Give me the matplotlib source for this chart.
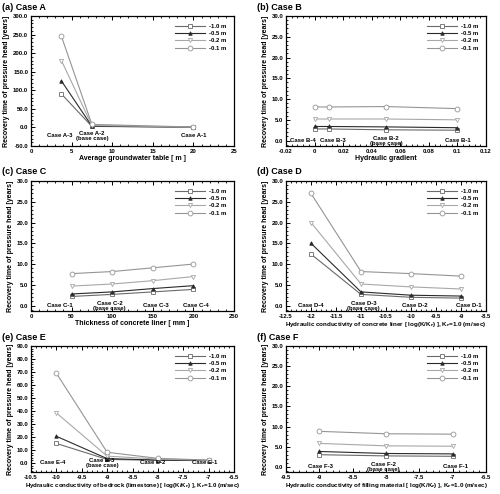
import matplotlib
matplotlib.use("Agg")
import matplotlib.pyplot as plt
from matplotlib.ticker import AutoMinorLocator

plt.rcParams['font.family'] = ['Liberation Sans', 'DejaVu Sans']
plt.rcParams['font.weight'] = 'bold'
plt.rcParams['mathtext.default'] = 'bf'

series_names = ["-1.0 m", "-0.5 m", "-0.2 m", "-0.1 m"]
ylabel = "Recovery time of pressure head [years]"

# Case A
a_x = [3.75, 7.5, 20]
a_vals = [[90, 2.7, 0.8], [125, 3.3, 0.9], [180, 5.2, 1.0], [245, 8.2, 1.1]]
a_cases = ["Case A-3", "Case A-2\n(base case)", "Case A-1"]
a_case_x = [3.5, 7.5, 20]
a_xticks = [0, 5, 10, 15, 20, 25]
a_xticklabels = ["0", "5", "10", "15", "20", "25"]
a_yticks = [-50, 0, 50, 100, 150, 200, 250, 300]
a_yticklabels = ["-50.0", "0.0", "50.0", "100.0", "150.0", "200.0", "250.0", "300.0"]

# Case B
b_x = [0, 0.01, 0.05, 0.1]
b_vals = [[2.8, 2.8, 2.6, 2.5], [3.4, 3.4, 3.3, 3.1], [5.2, 5.2, 5.2, 5.0], [8.1, 8.1, 8.2, 7.7]]
b_cases = ["Case B-4", "Case B-3", "Case B-2\n(base case)", "Case B-1"]
b_case_x = [-0.008, 0.013, 0.05, 0.1]
b_xticks = [-0.02, 0, 0.02, 0.04, 0.06, 0.08, 0.1, 0.12]
b_xticklabels = ["-0.02", "0", "0.02", "0.04", "0.06", "0.08", "0.1", "0.12"]

# Case C
c_x = [50, 100, 150, 200]
c_vals = [[2.2, 2.7, 3.3, 3.9], [2.8, 3.3, 4.1, 4.8], [4.7, 5.2, 6.0, 7.0], [7.7, 8.2, 9.1, 10.0]]
c_cases = ["Case C-1", "Case C-2\n(base case)", "Case C-3", "Case C-4"]
c_case_x = [35, 97, 154, 203]
c_xticks = [0, 50, 100, 150, 200, 250]
c_xticklabels = ["0", "50", "100", "150", "200", "250"]

# Case D
d_x = [-12, -11, -10, -9]
d_vals = [[12.4, 2.7, 2.0, 1.8], [15.0, 3.3, 2.5, 2.3], [20.0, 5.2, 4.5, 4.0], [27.0, 8.2, 7.7, 7.1]]
d_cases = ["Case D-4", "Case D-3\n(base case)", "Case D-2", "Case D-1"]
d_case_x = [-12, -10.95, -9.92, -8.85]
d_xticks = [-12.5, -12, -11.5, -11, -10.5, -10, -9.5, -9, -8.5]
d_xticklabels = ["-12.5", "-12", "-11.5", "-11", "-10.5", "-10", "-9.5", "-9", "-8.5"]

# Case E
e_x = [-10, -9, -8, -7]
e_vals = [[15.0, 2.7, 2.0, 1.8], [20.5, 3.3, 2.2, 1.9], [38.5, 5.2, 3.0, 2.0], [69.0, 8.2, 3.5, 2.2]]
e_cases = ["Case E-4", "Case E-3\n(base case)", "Case E-2", "Case E-1"]
e_case_x = [-10.07, -9.1, -8.1, -7.07]
e_xticks = [-10.5, -10, -9.5, -9, -8.5, -8, -7.5, -7, -6.5]
e_xticklabels = ["-10.5", "-10", "-9.5", "-9", "-8.5", "-8", "-7.5", "-7", "-6.5"]
e_yticks = [0, 10, 20, 30, 40, 50, 60, 70, 80, 90]
e_yticklabels = ["0.0", "10.0", "20.0", "30.0", "40.0", "50.0", "60.0", "70.0", "80.0", "90.0"]

# Case F
f_x = [-9, -8, -7]
f_vals = [[3.0, 2.7, 2.6], [3.8, 3.3, 3.2], [5.8, 5.2, 5.1], [8.8, 8.2, 8.1]]
f_cases = ["Case F-3", "Case F-2\n(base case)", "Case F-1"]
f_case_x = [-8.975, -8.04, -6.96]
f_xticks = [-9.5, -9, -8.5, -8, -7.5, -7, -6.5]
f_xticklabels = ["-9.5", "-9", "-8.5", "-8", "-7.5", "-7", "-6.5"]

small_yticks = [0, 5, 10, 15, 20, 25, 30]
small_yticklabels = ["0.0", "5.0", "10.0", "15.0", "20.0", "25.0", "30.0"]

colors = ["#6a6a6a", "#2a2a2a", "#a8a8a8", "#959595"]
markers = ["s", "^", "v", "o"]
mfaces = ["white", "#2a2a2a", "white", "white"]
msizes = [3.0, 2.5, 3.0, 3.5]

fig = plt.figure(figsize=(5.0, 4.94), dpi=100)
W, H = 500.0, 494.0

def make_axes(left_px, top_px, w_px, h_px):
    return fig.add_axes([left_px / W, 1 - (top_px + h_px) / H, w_px / W, h_px / H])

def panel(ax, title, x, vals, cases, case_x, case_y, xticks, xticklabels, xlim,
          yticks, yticklabels, ylim, xlabel, xlabel_size=5.0):
    for i, name in enumerate(series_names):
        ax.plot(x, vals[i], color=colors[i], lw=0.8, marker=markers[i],
                ms=msizes[i], mfc=mfaces[i], mec=colors[i], mew=0.6, label=name)
    for cx, ct in zip(case_x, cases):
        ax.text(cx, case_y, ct, ha="center", va="center", fontsize=4.3,
                fontweight="bold", linespacing=1.0)
    ax.set_xlim(*xlim)
    ax.set_ylim(*ylim)
    ax.set_xticks(xticks)
    ax.set_xticklabels(xticklabels)
    ax.set_yticks(yticks)
    ax.set_yticklabels(yticklabels)
    ax.xaxis.set_minor_locator(AutoMinorLocator(5))
    ax.yaxis.set_minor_locator(AutoMinorLocator(5))
    ax.tick_params(which="both", direction="in", top=True, right=False,
                   labelsize=4.3, pad=2)
    ax.tick_params(which="major", length=3, width=0.7)
    ax.tick_params(which="minor", length=1.5, width=0.6)
    for sp in ax.spines.values():
        sp.set_linewidth(0.9)
    ax.set_xlabel(xlabel, fontsize=xlabel_size, fontweight="bold", labelpad=1.0)
    ax.set_ylabel(ylabel, fontsize=5, fontweight="bold", labelpad=2)
    ax.legend(loc="upper right", fontsize=4.3, frameon=False, handlelength=5,
              handletextpad=0.6, labelspacing=0.35, borderaxespad=0.9)
    bb = ax.get_position()
    fig.text(bb.x0 - 29 / W, bb.y1 + 9 / H, title, fontsize=6.5,
             fontweight="bold", ha="left", va="center")

lefts = [31, 286]
tops = [16, 181, 346]
w_px = [203, 200]
h_rows = [130, 130, 126]

axA = make_axes(lefts[0], tops[0], w_px[0], h_rows[0])
panel(axA, "(a) Case A", a_x, a_vals, a_cases, a_case_x, -22, a_xticks, a_xticklabels,
      (0, 25), a_yticks, a_yticklabels, (-50, 300), "Average groundwater table [ m ]")

axB = make_axes(lefts[1], tops[0], w_px[1], h_rows[0])
panel(axB, "(b) Case B", b_x, b_vals, b_cases, b_case_x, 0.0, b_xticks, b_xticklabels,
      (-0.02, 0.12), small_yticks, small_yticklabels, (-1.3, 30), "Hydraulic gradient")

axC = make_axes(lefts[0], tops[1], w_px[0], h_rows[1])
panel(axC, "(c) Case C", c_x, c_vals, c_cases, c_case_x, 0.0, c_xticks, c_xticklabels,
      (0, 250), small_yticks, small_yticklabels, (-1.3, 30), "Thickness of concrete liner [ mm ]")

axD = make_axes(lefts[1], tops[1], w_px[1], h_rows[1])
panel(axD, "(d) Case D", d_x, d_vals, d_cases, d_case_x, 0.0, d_xticks, d_xticklabels,
      (-12.5, -8.5), small_yticks, small_yticklabels, (-1.3, 30),
      "Hydraulic conductivity of concrete liner [ log(K/K$_r$) ], K$_r$=1.0 (m/sec)",
      xlabel_size=4.5)

axE = make_axes(lefts[0], tops[2], w_px[0], h_rows[2])
panel(axE, "(e) Case E", e_x, e_vals, e_cases, e_case_x, 0.0, e_xticks, e_xticklabels,
      (-10.5, -6.5), e_yticks, e_yticklabels, (-7, 90),
      "Hydraulic conductivity of bedrock (limestone) [ log(K/K$_r$) ], K$_r$=1.0 (m/sec)",
      xlabel_size=4.4)

axF = make_axes(lefts[1], tops[2], w_px[1], h_rows[2])
panel(axF, "(f) Case F", f_x, f_vals, f_cases, f_case_x, 0.0, f_xticks, f_xticklabels,
      (-9.5, -6.5), small_yticks, small_yticklabels, (-1.3, 30),
      "Hydraulic conductivity of filling material [ log(K/K$_r$) ], K$_r$=1.0 (m/sec)",
      xlabel_size=4.5)

fig.savefig("out.png", dpi=100)
